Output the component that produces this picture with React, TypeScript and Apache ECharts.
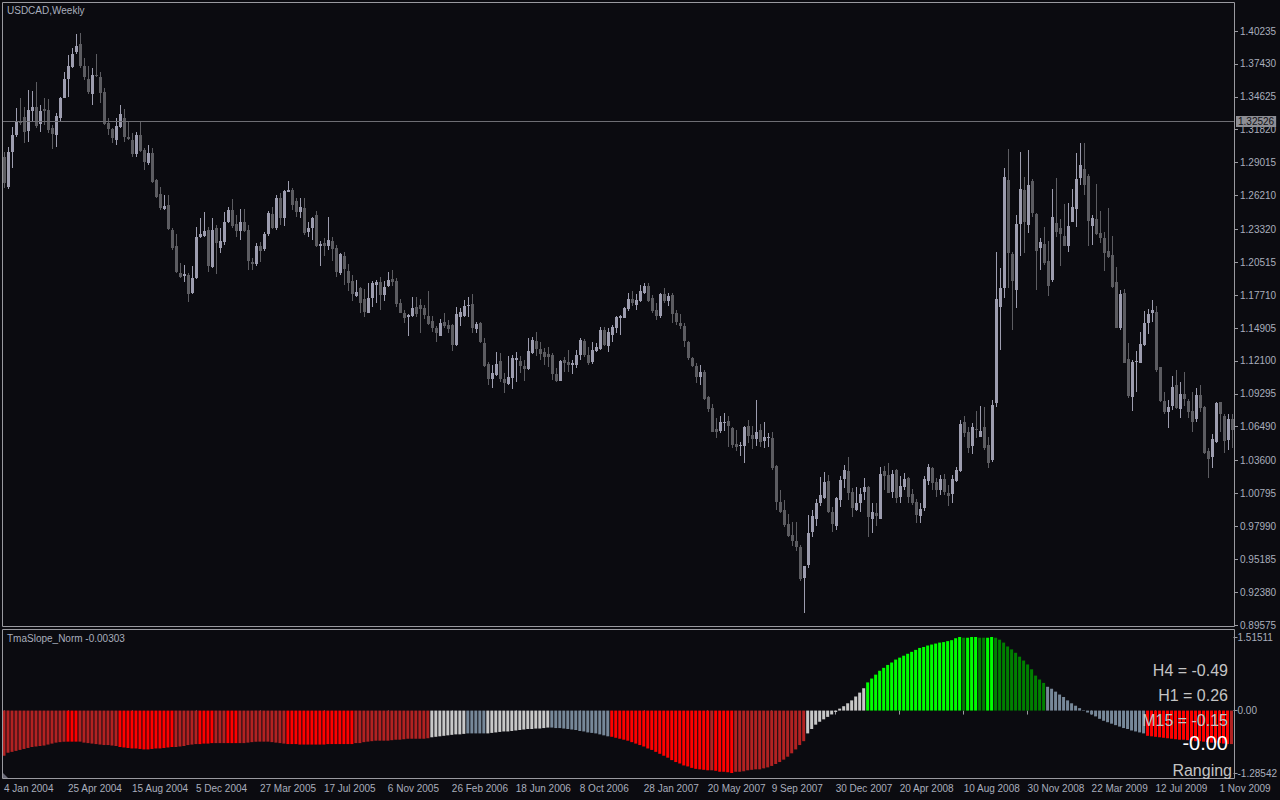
import React, { useEffect, useRef } from 'react';
import * as echarts from 'echarts';

// ---------- DATA ----------
const priceTickLabels = ['0.89575', '0.92380', '0.95185', '0.97990', '1.00795', '1.03600', '1.06490', '1.09295', '1.12100', '1.14905', '1.17710', '1.20515', '1.23320', '1.26210', '1.29015', '1.31820', '1.34625', '1.37430', '1.40235'];
const dateTickLabels = ['4 Jan 2004', '25 Apr 2004', '15 Aug 2004', '5 Dec 2004', '27 Mar 2005', '17 Jul 2005', '6 Nov 2005', '26 Feb 2006', '18 Jun 2006', '8 Oct 2006', '28 Jan 2007', '20 May 2007', '9 Sep 2007', '30 Dec 2007', '20 Apr 2008', '10 Aug 2008', '30 Nov 2008', '22 Mar 2009', '12 Jul 2009', '1 Nov 2009'];
const subTickValues = [-1.28542, 0, 1.51511];
const currentPrice = 1.32526;

const opens = [1.2952,1.2696,1.2994,1.3136,1.3250,1.3293,1.3171,1.3344,1.3378,1.3228,1.3358,1.3350,1.3193,1.3136,1.3284,1.3455,1.3614,1.3719,1.3847,1.3910,
1.3728,1.3614,1.3486,1.3648,1.3634,1.3506,1.3242,1.3185,1.3094,1.3208,1.3284,1.3122,1.3094,1.2972,1.3136,1.3009,1.2895,1.2980,1.2753,1.2631,
1.2508,1.2539,1.2326,1.2190,1.1962,1.1937,1.1943,1.1786,1.1914,1.2270,1.2278,1.2326,1.2014,1.2340,1.2175,1.2221,1.2397,1.2497,1.2377,1.2318,
1.2397,1.2326,1.2050,1.2033,1.2193,1.2164,1.2289,1.2460,1.2340,1.2602,1.2426,1.2653,1.2667,1.2574,1.2477,1.2517,1.2312,1.2346,1.2454,1.2193,
1.2212,1.2190,1.2235,1.2170,1.1956,1.2104,1.1976,1.1891,1.1763,1.1828,1.1735,1.1621,1.1746,1.1860,1.1882,1.1772,1.1848,1.1911,1.1891,1.1701,
1.1615,1.1587,1.1595,1.1667,1.1686,1.1661,1.1593,1.1550,1.1490,1.1425,1.1539,1.1516,1.1513,1.1345,1.1587,1.1593,1.1678,1.1692,1.1482,1.1533,
1.1359,1.1183,1.1058,1.1089,1.1209,1.1052,1.1015,1.1067,1.1217,1.1209,1.1169,1.1141,1.1280,1.1379,1.1311,1.1283,1.1268,1.1260,1.1098,1.1041,
1.1220,1.1200,1.1178,1.1178,1.1257,1.1376,1.1257,1.1203,1.1297,1.1311,1.1473,1.1340,1.1430,1.1490,1.1578,1.1578,1.1649,1.1735,1.1689,1.1723,
1.1791,1.1848,1.1743,1.1641,1.1595,1.1780,1.1723,1.1772,1.1621,1.1530,1.1507,1.1374,1.1237,1.1166,1.1075,1.1118,1.0905,1.0811,1.0626,1.0615,
1.0680,1.0697,1.0637,1.0504,1.0487,1.0487,1.0654,1.0578,1.0543,1.0620,1.0526,1.0555,1.0549,1.0316,1.0009,0.9938,0.9819,0.9725,0.9674,0.9625,
0.9361,0.9472,0.9753,0.9861,0.9995,1.0043,1.0188,0.9918,0.9804,1.0023,1.0202,1.0270,1.0094,0.9938,0.9995,1.0094,1.0137,0.9864,0.9915,0.9864,
1.0270,1.0236,1.0091,1.0279,1.0052,1.0134,1.0208,1.0071,1.0003,0.9889,0.9952,1.0188,1.0299,1.0179,1.0108,1.0199,1.0086,1.0071,1.0185,1.0273,
1.0686,1.0606,1.0484,1.0628,1.0563,1.0643,1.0492,1.0364,1.0848,1.1672,1.1829,1.2753,1.2121,1.1814,1.2377,1.2667,1.2369,1.2744,1.2463,1.2176,
1.2207,1.2062,1.1900,1.2383,1.2340,1.2275,1.2193,1.2397,1.2505,1.2772,1.2846,1.2787,1.2363,1.2420,1.2298,1.2261,1.2147,1.2113,1.1880,1.1487,
1.1786,1.1226,1.0905,1.1200,1.1195,1.1345,1.1530,1.1621,1.1624,1.1155,1.0870,1.0777,1.0828,1.1004,1.0797,1.0927,1.0870,1.0782,1.0711,1.0919,
1.0814,1.0441,1.0393,1.0515,1.0856,1.0740,1.0538,1.0711];

const closes = [1.2724,1.2994,1.3136,1.3250,1.3242,1.3165,1.3350,1.3378,1.3216,1.3341,1.3344,1.3179,1.3142,1.3301,1.3455,1.3614,1.3725,1.3825,1.3896,1.3728,
1.3628,1.3506,1.3648,1.3640,1.3498,1.3228,1.3185,1.3108,1.3213,1.3313,1.3122,1.3100,1.2974,1.3136,1.2999,1.2909,1.2980,1.2738,1.2611,1.2517,
1.2531,1.2335,1.2175,1.1971,1.1928,1.1948,1.1778,1.1914,1.2267,1.2292,1.2318,1.2022,1.2326,1.2213,1.2232,1.2392,1.2497,1.2363,1.2318,1.2397,
1.2321,1.2062,1.2033,1.2193,1.2147,1.2289,1.2474,1.2340,1.2596,1.2426,1.2662,1.2670,1.2539,1.2477,1.2522,1.2298,1.2346,1.2426,1.2190,1.2207,
1.2190,1.2241,1.2164,1.1971,1.2121,1.1993,1.1877,1.1780,1.1797,1.1706,1.1630,1.1746,1.1871,1.1882,1.1772,1.1843,1.1900,1.1885,1.1695,1.1621,
1.1573,1.1604,1.1661,1.1610,1.1652,1.1601,1.1524,1.1490,1.1445,1.1533,1.1505,1.1482,1.1348,1.1610,1.1624,1.1678,1.1686,1.1493,1.1524,1.1371,
1.1166,1.1058,1.1104,1.1183,1.1055,1.1018,1.1069,1.1234,1.1231,1.1166,1.1141,1.1294,1.1388,1.1311,1.1268,1.1246,1.1246,1.1095,1.1041,1.1209,
1.1192,1.1175,1.1189,1.1257,1.1388,1.1257,1.1189,1.1300,1.1331,1.1473,1.1345,1.1453,1.1496,1.1581,1.1592,1.1658,1.1735,1.1706,1.1729,1.1806,
1.1848,1.1723,1.1635,1.1595,1.1780,1.1720,1.1763,1.1607,1.1544,1.1507,1.1379,1.1237,1.1166,1.1075,1.1118,1.0885,1.0799,1.0606,1.0606,1.0686,
1.0689,1.0654,1.0492,1.0478,1.0495,1.0649,1.0572,1.0541,1.0603,1.0521,1.0560,1.0563,1.0293,1.0009,0.9924,0.9810,0.9719,0.9676,0.9625,0.9347,
0.9460,0.9739,0.9887,1.0000,1.0066,1.0177,0.9924,0.9819,1.0037,1.0194,1.0279,1.0086,0.9958,1.0000,1.0074,1.0137,0.9881,0.9921,0.9887,1.0245,
1.0231,1.0086,1.0245,1.0043,1.0143,1.0202,1.0049,0.9995,0.9895,0.9946,1.0202,1.0307,1.0165,1.0108,1.0199,1.0094,1.0057,1.0199,1.0279,1.0671,
1.0597,1.0469,1.0643,1.0626,1.0612,1.0464,1.0342,1.0833,1.1738,1.1829,1.2775,1.2127,1.1894,1.2377,1.2676,1.2392,1.2710,1.2468,1.2147,1.2227,
1.2048,1.1851,1.2437,1.2312,1.2292,1.2193,1.2360,1.2522,1.2761,1.2880,1.2710,1.2403,1.2426,1.2292,1.2261,1.2133,1.2096,1.1843,1.1493,1.1780,
1.1195,1.0910,1.1197,1.1205,1.1351,1.1533,1.1607,1.1644,1.1129,1.0870,1.0777,1.0814,1.0984,1.0811,1.0927,1.0885,1.0771,1.0691,1.0919,1.0805,
1.0427,1.0373,1.0544,1.0853,1.0760,1.0527,1.0714,1.0623];

const lows = [1.2682,1.2680,1.2852,1.3122,1.3222,1.3066,1.3080,1.3250,1.3193,1.3165,1.3222,1.3151,1.3017,1.3037,1.3250,1.3449,1.3463,1.3705,1.3825,1.3705,
1.3606,1.3486,1.3392,1.3634,1.3407,1.3222,1.3136,1.3066,1.3051,1.3193,1.3080,1.3094,1.2952,1.2952,1.2994,1.2838,1.2881,1.2724,1.2596,1.2497,
1.2497,1.2326,1.2156,1.1957,1.1914,1.1886,1.1715,1.1778,1.1908,1.2255,1.2270,1.1971,1.2000,1.1948,1.2127,1.2198,1.2383,1.2340,1.2270,1.2241,
1.2312,1.1985,1.1985,1.2022,1.2056,1.2147,1.2278,1.2335,1.2326,1.2369,1.2360,1.2653,1.2497,1.2440,1.2426,1.2284,1.2270,1.2241,1.2178,1.2019,
1.2104,1.2155,1.2064,1.1922,1.1942,1.1857,1.1809,1.1723,1.1757,1.1621,1.1587,1.1615,1.1672,1.1701,1.1644,1.1723,1.1837,1.1851,1.1672,1.1615,
1.1536,1.1425,1.1587,1.1587,1.1450,1.1564,1.1516,1.1459,1.1374,1.1422,1.1490,1.1450,1.1294,1.1340,1.1507,1.1581,1.1587,1.1445,1.1445,1.1359,
1.1160,1.1004,1.0976,1.1081,1.1033,1.0933,1.1004,1.0967,1.1033,1.1104,1.1041,1.1132,1.1266,1.1251,1.1217,1.1175,1.1160,1.1047,1.1033,1.1038,
1.1118,1.1118,1.1098,1.1146,1.1217,1.1246,1.1175,1.1183,1.1288,1.1303,1.1337,1.1288,1.1374,1.1450,1.1430,1.1573,1.1638,1.1678,1.1644,1.1715,
1.1780,1.1715,1.1621,1.1558,1.1578,1.1706,1.1678,1.1536,1.1516,1.1479,1.1331,1.1217,1.1160,1.1024,1.1004,1.0876,1.0777,1.0600,1.0555,1.0592,
1.0612,1.0472,1.0464,1.0444,1.0401,1.0342,1.0506,1.0458,1.0484,1.0478,1.0470,1.0478,1.0279,0.9938,0.9915,0.9796,0.9710,0.9631,0.9591,0.9335,
0.9062,0.9440,0.9710,0.9801,0.9975,1.0029,0.9909,0.9753,0.9767,0.9966,1.0123,1.0023,0.9875,0.9932,0.9924,1.0023,0.9710,0.9745,0.9801,0.9858,
1.0108,1.0080,1.0037,0.9995,1.0000,1.0108,1.0000,0.9981,0.9824,0.9830,0.9932,1.0151,1.0108,1.0052,1.0066,1.0066,0.9972,0.9995,1.0179,1.0265,
1.0563,1.0421,1.0415,1.0549,1.0558,1.0450,1.0299,1.0350,1.0819,1.1303,1.1743,1.1829,1.1473,1.1664,1.2107,1.2127,1.2298,1.2440,1.1814,1.1985,
1.2028,1.1766,1.1885,1.2269,1.2022,1.2190,1.2136,1.2392,1.2355,1.2710,1.2625,1.2193,1.2198,1.2284,1.2212,1.1979,1.2085,1.1829,1.1487,1.1473,
1.1189,1.0890,1.0785,1.0947,1.1189,1.1340,1.1439,1.1544,1.1118,1.0862,1.0754,1.0635,1.0791,1.0799,1.0726,1.0828,1.0726,1.0600,1.0691,1.0777,
1.0413,1.0214,1.0293,1.0507,1.0606,1.0421,1.0450,1.0464];

const highs = [1.2994,1.3037,1.3208,1.3364,1.3449,1.3378,1.3520,1.3512,1.3591,1.3392,1.3449,1.3443,1.3222,1.3321,1.3463,1.3677,1.3819,1.3876,1.3995,1.4004,
1.3790,1.3728,1.3705,1.3825,1.3677,1.3535,1.3279,1.3193,1.3279,1.3392,1.3358,1.3250,1.3151,1.3165,1.3250,1.3023,1.3051,1.3028,1.2761,1.2696,
1.2625,1.2625,1.2340,1.2289,1.2048,1.2028,1.1957,1.2022,1.2355,1.2426,1.2477,1.2355,1.2426,1.2369,1.2340,1.2483,1.2525,1.2591,1.2454,1.2505,
1.2505,1.2369,1.2085,1.2212,1.2227,1.2312,1.2488,1.2525,1.2625,1.2639,1.2670,1.2744,1.2687,1.2596,1.2596,1.2596,1.2397,1.2440,1.2488,1.2232,
1.2255,1.2440,1.2269,1.2198,1.2133,1.2141,1.2036,1.1942,1.1900,1.1837,1.1823,1.1871,1.1891,1.1900,1.1928,1.1891,1.1971,1.1985,1.1914,1.1735,
1.1644,1.1610,1.1757,1.1757,1.1735,1.1686,1.1806,1.1593,1.1507,1.1570,1.1621,1.1559,1.1524,1.1672,1.1658,1.1729,1.1757,1.1780,1.1541,1.1544,
1.1402,1.1203,1.1175,1.1288,1.1280,1.1104,1.1251,1.1260,1.1288,1.1254,1.1217,1.1402,1.1411,1.1459,1.1374,1.1317,1.1331,1.1274,1.1146,1.1217,
1.1246,1.1303,1.1217,1.1303,1.1402,1.1394,1.1331,1.1374,1.1359,1.1502,1.1502,1.1487,1.1516,1.1592,1.1601,1.1672,1.1792,1.1803,1.1780,1.1857,
1.1871,1.1877,1.1772,1.1706,1.1786,1.1828,1.1792,1.1786,1.1644,1.1610,1.1536,1.1382,1.1246,1.1195,1.1175,1.1132,1.0910,1.0842,1.0720,1.0742,
1.0762,1.0740,1.0649,1.0620,1.0515,1.0657,1.0706,1.0657,1.0876,1.0671,1.0691,1.0597,1.0600,1.0322,1.0108,1.0023,0.9904,0.9838,0.9838,0.9639,
0.9460,0.9895,0.9938,1.0029,1.0222,1.0265,1.0236,0.9966,1.0046,1.0228,1.0322,1.0387,1.0123,1.0131,1.0123,1.0208,1.0142,0.9995,0.9995,1.0308,
1.0313,1.0342,1.0279,1.0290,1.0228,1.0256,1.0216,1.0120,1.0035,0.9995,1.0228,1.0330,1.0307,1.0208,1.0236,1.0245,1.0151,1.0236,1.0307,1.0705,
1.0740,1.0649,1.0677,1.0782,1.0825,1.0819,1.0563,1.0876,1.2141,1.2005,1.2852,1.3017,1.2141,1.2454,1.2988,1.2781,1.3008,1.2761,1.2468,1.2255,
1.2352,1.2232,1.2676,1.2767,1.2420,1.2545,1.2554,1.2676,1.2980,1.3065,1.3065,1.2800,1.2454,1.2716,1.2488,1.2306,1.2517,1.2278,1.2008,1.1814,
1.1823,1.1360,1.1217,1.1294,1.1453,1.1638,1.1652,1.1729,1.1681,1.1161,1.0942,1.0876,1.1084,1.1132,1.1027,1.1112,1.0885,1.0942,1.0976,1.1004,
1.0828,1.0464,1.0584,1.0862,1.0862,1.0754,1.0754,1.0754];

const slopeValues = [-0.93,-0.87,-0.85,-0.83,-0.81,-0.79,-0.77,-0.75,-0.74,-0.73,-0.72,-0.70,-0.68,-0.66,-0.65,-0.64,-0.64,-0.64,-0.64,-0.64,
-0.66,-0.67,-0.68,-0.69,-0.70,-0.71,-0.71,-0.72,-0.73,-0.75,-0.76,-0.77,-0.78,-0.78,-0.79,-0.80,-0.80,-0.79,-0.78,-0.78,
-0.77,-0.76,-0.75,-0.75,-0.74,-0.73,-0.71,-0.70,-0.69,-0.69,-0.68,-0.68,-0.67,-0.67,-0.67,-0.67,-0.67,-0.67,-0.67,-0.67,
-0.67,-0.66,-0.65,-0.64,-0.64,-0.64,-0.64,-0.65,-0.66,-0.67,-0.68,-0.69,-0.69,-0.69,-0.70,-0.70,-0.70,-0.70,-0.70,-0.70,
-0.70,-0.69,-0.69,-0.69,-0.69,-0.69,-0.69,-0.69,-0.67,-0.67,-0.65,-0.64,-0.63,-0.62,-0.62,-0.62,-0.62,-0.61,-0.60,-0.60,
-0.59,-0.58,-0.58,-0.58,-0.58,-0.58,-0.57,-0.55,-0.54,-0.53,-0.52,-0.51,-0.50,-0.49,-0.49,-0.48,-0.47,-0.47,-0.47,-0.47,
-0.47,-0.47,-0.46,-0.45,-0.44,-0.43,-0.43,-0.42,-0.41,-0.40,-0.39,-0.38,-0.38,-0.37,-0.37,-0.36,-0.35,-0.35,-0.36,-0.36,
-0.37,-0.38,-0.39,-0.40,-0.42,-0.43,-0.45,-0.46,-0.47,-0.49,-0.51,-0.53,-0.54,-0.56,-0.58,-0.60,-0.62,-0.65,-0.68,-0.71,
-0.74,-0.78,-0.81,-0.85,-0.89,-0.93,-0.97,-1.02,-1.06,-1.09,-1.13,-1.15,-1.18,-1.20,-1.21,-1.22,-1.23,-1.23,-1.24,-1.26,
-1.26,-1.27,-1.28542,-1.26,-1.26,-1.25,-1.23,-1.22,-1.21,-1.21,-1.19,-1.17,-1.14,-1.10,-1.06,-1.01,-0.95,-0.88,-0.80,-0.71,
-0.63,-0.47,-0.38,-0.29,-0.23,-0.18,-0.13,-0.08,-0.03,0.04,0.09,0.15,0.21,0.29,0.37,0.46,0.58,0.66,0.74,0.82,
0.88,0.94,0.99,1.05,1.09,1.13,1.17,1.21,1.25,1.29,1.31,1.34,1.36,1.38,1.40,1.41,1.43,1.45,1.49,1.51511,
1.50,1.50,1.51511,1.51511,1.50,1.50,1.50,1.51511,1.50,1.46,1.40,1.32,1.26,1.19,1.11,1.03,0.95,0.85,0.72,0.64,
0.57,0.49,0.45,0.39,0.33,0.28,0.21,0.15,0.10,0.05,0.01,-0.04,-0.08,-0.12,-0.17,-0.21,-0.24,-0.27,-0.30,-0.33,
-0.36,-0.38,-0.41,-0.43,-0.45,-0.47,-0.52,-0.53,-0.54,-0.55,-0.56,-0.57,-0.58,-0.59,-0.60,-0.60,-0.61,-0.62,-0.63,-0.63,
-0.64,-0.65,-0.66,-0.66,-0.67,-0.68,-0.69,-0.69];

// color code runs for the histogram: f firebrick, r red, s silver, g slate gray, l lime, d green
const slopeColorRuns: Array<[string, number]> = [
  ['f', 16], ['r', 3], ['f', 10], ['r', 14], ['f', 6], ['r', 4], ['f', 3], ['r', 3], ['f', 12], ['r', 17], ['f', 19],
  ['s', 9], ['g', 5], ['s', 16], ['g', 15], ['r', 25], ['f', 1], ['r', 5], ['f', 18], ['s', 15], ['l', 24], ['d', 1],
  ['l', 3], ['d', 2], ['l', 2], ['d', 13], ['g', 25], ['r', 21], ['f', 1],
];

const mtfTexts = ['H4 = -0.49', 'H1 = 0.26', 'M15 = -0.15'];
const currentText = '-0.00';
const stateText = 'Ranging';

// ---------- STYLE ----------
const BG = '#0b0b10';
const FG = '#a9aebd';
const BORDER = '#9a9aa0';
const UP = '#9d9daf';
const DOWN = '#5c5c61';
const codeColor: Record<string, string> = {
  f: '#b22222', r: '#ff0000', s: '#c8c8c8', g: '#778899', l: '#00ff00', d: '#008000',
};
const FONT = "'Liberation Sans', Arial, sans-serif";

export default function App() {
  const ref = useRef<HTMLDivElement>(null);

  useEffect(() => {
    if (!ref.current) return;
    const chart = echarts.init(ref.current, null, { renderer: 'svg' });

    const cats = opens.map((_, i) => String(i));
    const candleData = opens.map((o, i) => [i, o, closes[i], lows[i], highs[i]]);
    const codes: string[] = [];
    slopeColorRuns.forEach(([c, n]) => { for (let k = 0; k < n; k++) codes.push(c); });
    const barData = slopeValues.map((v, i) => ({
      value: v,
      itemStyle: { color: codeColor[codes[i]] || '#ff0000' },
    }));
    const priceTickValues = priceTickLabels.map(Number);
    const yMin = priceTickValues[0];
    const pxPerUnit = (625 - 31) / (priceTickValues[priceTickValues.length - 1] - yMin);
    const yMax = priceTickValues[priceTickValues.length - 1] + 29 / pxPerUnit;

    const every16 = (index: number) => index % 16 === 0;

    const renderCandle = (_params: any, api: any) => {
      const idx = api.value(0);
      const o = api.value(1);
      const c = api.value(2);
      const l = api.value(3);
      const h = api.value(4);
      const pO = api.coord([idx, o]);
      const pC = api.coord([idx, c]);
      const pL = api.coord([idx, l]);
      const pH = api.coord([idx, h]);
      const cx = Math.round(pO[0]);
      const top = Math.round(Math.min(pO[1], pC[1]));
      const bot = Math.round(Math.max(pO[1], pC[1]));
      const hy = Math.round(pH[1]);
      const ly = Math.round(pL[1]);
      const color = c >= o ? UP : DOWN;
      return {
        type: 'group',
        children: [
          { type: 'rect', shape: { x: cx, y: hy, width: 1, height: Math.max(1, ly - hy) }, style: { fill: color } },
          { type: 'rect', shape: { x: cx - 1, y: top, width: 3, height: Math.max(1, bot - top) }, style: { fill: color } },
        ],
      };
    };

    chart.setOption({
      animation: false,
      backgroundColor: BG,
      grid: [
        { left: 2, top: 2, width: 1232, height: 623 },
        { left: 2, top: 637, width: 1232, height: 136 },
      ],
      xAxis: [
        {
          type: 'category', gridIndex: 0, data: cats, boundaryGap: true,
          axisLine: { show: false }, axisTick: { show: false }, axisLabel: { show: false }, splitLine: { show: false },
        },
        {
          type: 'category', gridIndex: 1, data: cats, boundaryGap: true, position: 'bottom', offset: 6,
          axisLine: { show: false },
          axisTick: { show: true, interval: every16, alignWithLabel: true, length: 4, lineStyle: { color: BORDER } },
          axisLabel: {
            show: true, interval: every16, align: 'left', margin: 4, color: FG, fontSize: 10, fontFamily: FONT,
            formatter: (_v: string, index: number) => (index % 16 === 0 ? dateTickLabels[index / 16] ?? '' : ''),
          },
          splitLine: { show: false },
        },
      ],
      yAxis: [
        {
          type: 'value', gridIndex: 0, position: 'right', min: yMin, max: yMax, scale: true,
          axisLine: { show: false }, splitLine: { show: false },
          axisTick: { show: true, length: 4, customValues: priceTickValues, lineStyle: { color: BORDER } },
          axisLabel: {
            show: true, margin: 6, color: FG, fontSize: 10, fontFamily: FONT, customValues: priceTickValues,
            formatter: (v: number) => {
              let best = 0;
              priceTickValues.forEach((t, k) => { if (Math.abs(t - v) < Math.abs(priceTickValues[best] - v)) best = k; });
              return priceTickLabels[best];
            },
          },
        },
        {
          type: 'value', gridIndex: 1, position: 'right', min: subTickValues[0], max: subTickValues[2],
          axisLine: { show: false }, splitLine: { show: false },
          axisTick: { show: true, length: 4, customValues: subTickValues, lineStyle: { color: BORDER } },
          axisLabel: {
            show: true, margin: 4, color: FG, fontSize: 10, fontFamily: FONT, customValues: subTickValues,
            formatter: (v: number) => (Math.abs(v) < 1e-9 ? '0.00' : v.toFixed(5)),
          },
        },
      ],
      series: [
        {
          type: 'custom', xAxisIndex: 0, yAxisIndex: 0, data: candleData, renderItem: renderCandle,
          encode: { x: 0, y: [1, 2, 3, 4] }, clip: true,
          markLine: {
            silent: true, symbol: 'none', precision: 5,
            lineStyle: { color: '#6e6e74', width: 1, type: 'solid' },
            data: [{ yAxis: currentPrice }],
            label: {
              show: true, position: 'end', distance: 2, formatter: currentPrice.toFixed(5),
              color: '#101014', backgroundColor: '#8e8e94', padding: [1, 2, 0, 2], fontSize: 10, fontFamily: FONT,
            },
          },
        },
        {
          type: 'bar', xAxisIndex: 1, yAxisIndex: 1, data: barData, barWidth: 3,
        },
      ],
      graphic: [
        { type: 'rect', z: 50, silent: true, shape: { x: 2.5, y: 2.5, width: 1232, height: 624 }, style: { fill: 'none', stroke: BORDER, lineWidth: 1 } },
        { type: 'rect', z: 50, silent: true, shape: { x: 2.5, y: 629.5, width: 1232, height: 149 }, style: { fill: 'none', stroke: BORDER, lineWidth: 1 } },
        { type: 'polygon', z: 50, silent: true, shape: { points: [[3, 773], [3, 778], [8, 778]] }, style: { fill: '#6a6a78' } },
        { type: 'text', z: 60, x: 7, y: 5, style: { text: 'USDCAD,Weekly', fill: FG, font: `10px ${FONT}` } },
        { type: 'text', z: 60, x: 7, y: 633, style: { text: 'TmaSlope_Norm -0.00303', fill: FG, font: `10px ${FONT}` } },
        ...mtfTexts.map((t, k) => ({
          type: 'text', z: 60, x: 1228, y: 670 + k * 25,
          style: { text: t, fill: '#c4c4c4', font: `16px ${FONT}`, align: 'right', textAlign: 'right', verticalAlign: 'middle', textVerticalAlign: 'middle' },
        })),
        {
          type: 'text', z: 60, x: 1228, y: 743,
          style: { text: currentText, fill: '#ffffff', font: `20px ${FONT}`, align: 'right', textAlign: 'right', verticalAlign: 'middle', textVerticalAlign: 'middle' },
        },
        {
          type: 'text', z: 60, x: 1232, y: 770,
          style: { text: stateText, fill: '#c4c4c4', font: `16px ${FONT}`, align: 'right', textAlign: 'right', verticalAlign: 'middle', textVerticalAlign: 'middle' },
        },
      ],
    });

    return () => chart.dispose();
  }, []);

  return (
    <div style={{ position: 'fixed', left: 0, top: 0, width: 1280, height: 800, background: BG }}>
      <div ref={ref} style={{ width: 1280, height: 800 }} />
    </div>
  );
}
